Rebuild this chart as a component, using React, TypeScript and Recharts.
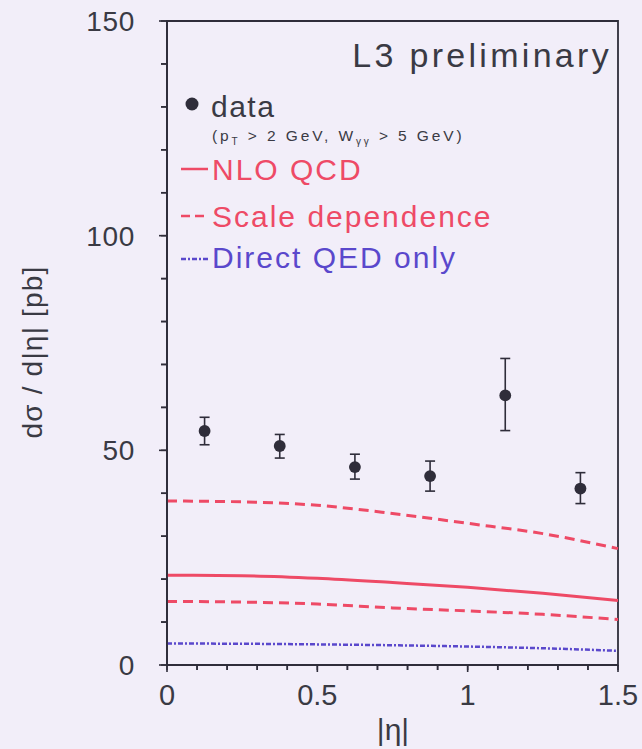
import { ComposedChart, Line, Scatter, ErrorBar, XAxis, YAxis, ZAxis, ReferenceArea } from 'recharts'

// |eta| grid for the theory curves
const etaGrid = [0, 0.25, 0.5, 0.75, 1.0, 1.25, 1.5]
const nloQcd = [20.9, 20.8, 20.2, 19.2, 18.1, 16.7, 15.0]
const scaleHigh = [38.2, 38.0, 37.2, 35.3, 33.0, 30.6, 27.1]
const scaleLow = [14.8, 14.65, 14.2, 13.3, 12.6, 11.8, 10.6]
const directQed = [5.0, 4.95, 4.8, 4.6, 4.3, 3.9, 3.3]

// measured points
const dataEta = [0.125, 0.375, 0.625, 0.875, 1.125, 1.375]
const dataXs = [54.5, 51.0, 46.1, 44.0, 62.8, 41.1]
const dataErrLow = [3.2, 2.8, 2.8, 3.5, 8.2, 3.5]
const dataErrHigh = [3.2, 2.7, 3.0, 3.5, 8.6, 3.7]

const xTicks = [0, 0.1, 0.2, 0.3, 0.4, 0.5, 0.6, 0.7, 0.8, 0.9, 1.0, 1.1, 1.2, 1.3, 1.4, 1.5]
const xTickLabels = ['0', '0.5', '1', '1.5']
const yTicks = [0, 10, 20, 30, 40, 50, 60, 70, 80, 90, 100, 110, 120, 130, 140, 150]

const RED = '#ee4a66'
const BLUE = '#5a48cc'
const INK = '#2f2d3a'
const TXT = '#3a3a44'
const BG = '#f2eef9'
const FONT = '"Liberation Sans", Arial, sans-serif'

const curves = etaGrid.map((eta, i) => ({
  eta,
  nlo: nloQcd[i],
  hi: scaleHigh[i],
  lo: scaleLow[i],
  qed: directQed[i],
}))

const points = dataEta.map((eta, i) => ({
  eta,
  xs: dataXs[i],
  err: [dataErrLow[i], dataErrHigh[i]],
}))

const isMajor = (v: number, step: number) => Math.abs(v / step - Math.round(v / step)) < 1e-6

const XTick = ({ x, y, payload }: any) => {
  const v = payload.value
  const major = isMajor(v, 0.5)
  return (
    <g>
      <path d={`M${x},${y - 5}V${y - 5 + (major ? 7 : 5)}`} stroke={INK} strokeWidth={1.6} fill="none" />
      {major && (
        <text x={x} y={y + 35} textAnchor="middle" fontSize={29} fill={TXT} fontFamily={FONT}>
          {xTickLabels[Math.round(v / 0.5)]}
        </text>
      )}
    </g>
  )
}

const YTick = ({ x, y, payload }: any) => {
  const v = payload.value
  const major = isMajor(v, 50)
  return (
    <g>
      <path d={`M${x + 6},${y}H${x + 6 - (major ? 8 : 6)}`} stroke={INK} strokeWidth={1.6} fill="none" />
      {major && (
        <text x={x - 26} y={y + 10} textAnchor="end" fontSize={28} letterSpacing={0.7} fill={TXT} fontFamily={FONT}>
          {v}
        </text>
      )}
    </g>
  )
}

export default function App() {
  return (
    <div style={{ position: 'absolute', left: 0, top: 0, width: 642, height: 749, background: BG, fontFamily: FONT }}>
      <ComposedChart width={642} height={749} margin={{ top: 21, right: 24, left: 0, bottom: 0 }}>
        <XAxis
          type="number"
          dataKey="eta"
          domain={[0, 1.5]}
          ticks={xTicks}
          interval={0}
          height={84}
          tickSize={5}
          tickMargin={0}
          tick={<XTick />}
          tickLine={{ stroke: INK, strokeWidth: 1.5 }}
          axisLine={{ stroke: INK, strokeWidth: 1.8 }}
        />
        <YAxis
          type="number"
          domain={[0, 150]}
          ticks={yTicks}
          interval={0}
          width={167}
          tickSize={6}
          tickMargin={0}
          tick={<YTick />}
          tickLine={{ stroke: INK, strokeWidth: 1.5 }}
          axisLine={{ stroke: INK, strokeWidth: 1.8 }}
        />
        <ZAxis range={[110, 110]} />
        <ReferenceArea x1={0} x2={1.5} y1={0} y2={150} fill="none" stroke={INK} strokeWidth={1.8} ifOverflow="visible" />
        <Line data={curves} dataKey="hi" type="monotone" stroke={RED} strokeWidth={3} strokeDasharray="10 6" dot={false} isAnimationActive={false} />
        <Line data={curves} dataKey="nlo" type="monotone" stroke={RED} strokeWidth={3} dot={false} isAnimationActive={false} />
        <Line data={curves} dataKey="lo" type="monotone" stroke={RED} strokeWidth={3} strokeDasharray="10 6" dot={false} isAnimationActive={false} />
        <Line data={curves} dataKey="qed" type="monotone" stroke={BLUE} strokeWidth={2.5} strokeDasharray="5 2 2 2" dot={false} isAnimationActive={false} />
        <Scatter data={points} dataKey="xs" fill={INK} shape="circle" isAnimationActive={false}>
          <ErrorBar dataKey="err" direction="y" width={5} stroke={INK} strokeWidth={1.6} />
        </Scatter>
      </ComposedChart>

      <svg style={{ position: 'absolute', left: 0, top: 0 }} width={642} height={749} fontFamily={FONT}>
        {/* axis titles */}
        <text x={393} y={740} textAnchor="middle" fontSize={30} fill={TXT}>|η|</text>
        <text
          x={0}
          y={0}
          transform="translate(42 352) rotate(-90)"
          textAnchor="middle"
          fontSize={28}
          letterSpacing={1.2}
          fill={TXT}
        >
          dσ / d|η| [pb]
        </text>

        {/* in-plot annotations */}
        <text x={612} y={67} textAnchor="end" fontSize={34} letterSpacing={3.3} fill={TXT}>L3 preliminary</text>

        <circle cx={192} cy={104} r={6.5} fill={INK} />
        <text x={211} y={117} fontSize={30} letterSpacing={1.5} fill={TXT}>data</text>
        <text x={212} y={141} fontSize={15.5} letterSpacing={2.9} fill={TXT}>
          (p<tspan dy={4} fontSize={10}>T</tspan>
          <tspan dy={-4}> &gt; 2 GeV, W</tspan>
          <tspan dy={4} fontSize={10}>γγ</tspan>
          <tspan dy={-4}> &gt; 5 GeV)</tspan>
        </text>

        <line x1={181} x2={208} y1={169} y2={169} stroke={RED} strokeWidth={2.5} />
        <text x={212} y={180} fontSize={30} letterSpacing={2} fill={RED}>NLO QCD</text>

        <line x1={181} x2={208} y1={216} y2={216} stroke={RED} strokeWidth={2.5} strokeDasharray="9 5" />
        <text x={212} y={227} fontSize={30} letterSpacing={2} fill={RED}>Scale dependence</text>

        <line x1={181} x2={208} y1={259} y2={259} stroke={BLUE} strokeWidth={2.5} strokeDasharray="5 2 2 2" />
        <text x={212} y={268} fontSize={30} letterSpacing={2} fill={BLUE}>Direct QED only</text>
      </svg>
    </div>
  )
}
